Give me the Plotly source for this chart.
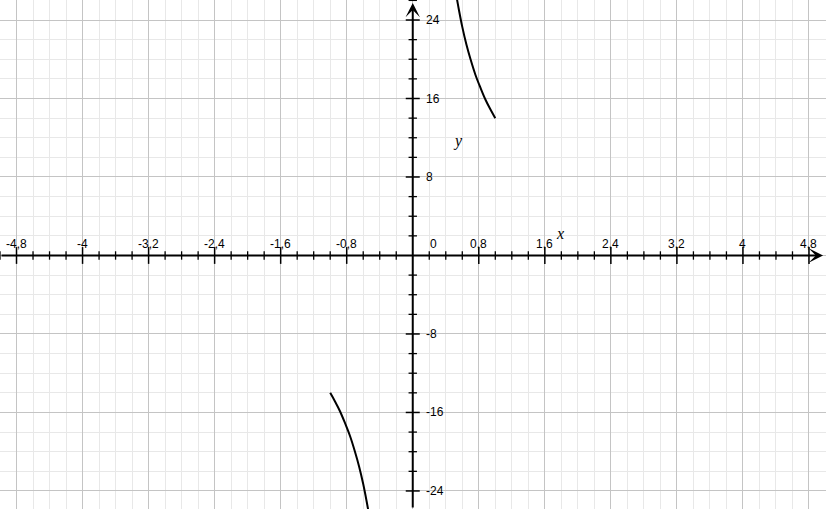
import numpy as np
import plotly.graph_objects as go

# ---- data ----
upper_x = [0.53, 0.56, 0.60, 0.65, 0.70, 0.76, 0.82, 0.88, 0.94, 1.00]
upper_y = [26.4, 25.0, 23.3, 21.5, 20.0, 18.4, 17.1, 15.9, 14.9, 14.0]
lower_x = [-1.00, -0.94, -0.88, -0.82, -0.76, -0.70, -0.65, -0.60, -0.56, -0.53]
lower_y = [-14.0, -14.9, -15.9, -17.1, -18.4, -20.0, -21.5, -23.3, -25.0, -26.4]

x_major = [-4.8, -4, -3.2, -2.4, -1.6, -0.8, 0.8, 1.6, 2.4, 3.2, 4, 4.8]
x_major_labels = ["-4,8", "-4", "-3,2", "-2,4", "-1,6", "-0,8", "0,8", "1,6", "2,4", "3,2", "4", "4,8"]
y_major = [-24, -16, -8, 8, 16, 24]
y_major_labels = ["-24", "-16", "-8", "8", "16", "24"]
x_minor = [round(v, 2) for v in np.arange(-25, 25) * 0.2 if round(v * 5) % 4 != 0]
y_minor = [v for v in range(-26, 27, 2) if v % 8 != 0]

X_RANGE = [-5.0, 5.006]
Y_RANGE = [-25.84, 26.04]

fig = go.Figure()

# curve branches
for xs, ys in [(upper_x, upper_y), (lower_x, lower_y)]:
    fig.add_trace(go.Scatter(x=xs, y=ys, mode="lines",
                             line=dict(color="black", width=2, shape="spline"),
                             hoverinfo="skip", showlegend=False))

# tick marks on the axes
fig.add_trace(go.Scatter(x=x_minor, y=[0] * len(x_minor), mode="markers",
                         marker=dict(symbol="line-ns", size=6, line=dict(color="black", width=1.3)),
                         hoverinfo="skip", showlegend=False))
fig.add_trace(go.Scatter(x=x_major, y=[0] * len(x_major), mode="markers",
                         marker=dict(symbol="line-ns", size=12, line=dict(color="black", width=1.5)),
                         hoverinfo="skip", showlegend=False))
fig.add_trace(go.Scatter(x=[0] * len(y_minor), y=y_minor, mode="markers",
                         marker=dict(symbol="line-ew", size=6, line=dict(color="black", width=1.3)),
                         hoverinfo="skip", showlegend=False))
fig.add_trace(go.Scatter(x=[0] * len(y_major), y=y_major, mode="markers",
                         marker=dict(symbol="line-ew", size=10, line=dict(color="black", width=1.5)),
                         hoverinfo="skip", showlegend=False))

annotations = []
label_font = dict(family="Liberation Sans, Arial, sans-serif", size=12, color="black")
for v, t in zip(x_major, x_major_labels):
    annotations.append(dict(x=v, y=0, text=t, showarrow=False, yshift=11,
                            xanchor="center", yanchor="middle", font=label_font))
for v, t in zip(y_major, y_major_labels):
    annotations.append(dict(x=0, y=v, text=t, showarrow=False, xshift=11,
                            xanchor="left", yanchor="middle", font=label_font))
annotations.append(dict(x=0, y=0, text="0", showarrow=False, xshift=15, yshift=11,
                        xanchor="left", yanchor="middle", font=label_font))

# axis arrows
annotations.append(dict(x=4.97, y=0, ax=X_RANGE[0], ay=0, axref="x", ayref="y",
                        xref="x", yref="y", text="", showarrow=True,
                        arrowhead=3, arrowsize=1.2, arrowwidth=2, arrowcolor="black"))
annotations.append(dict(x=0, y=25.74, ax=0, ay=Y_RANGE[0], axref="x", ayref="y",
                        xref="x", yref="y", text="", showarrow=True,
                        arrowhead=3, arrowsize=1.2, arrowwidth=2, arrowcolor="black"))

# axis names
axis_font = dict(family="Liberation Serif, Times New Roman, serif", size=16, color="black")
annotations.append(dict(x=1.784, y=2.29, text="<i>x</i>", showarrow=False, font=axis_font))
annotations.append(dict(x=0.548, y=11.67, text="<i>y</i>", showarrow=False, font=axis_font))

fig.update_layout(
    width=826, height=509,
    margin=dict(l=0, r=0, t=0, b=0),
    paper_bgcolor="white", plot_bgcolor="white",
    annotations=annotations,
    showlegend=False,
)
fig.update_xaxes(range=X_RANGE, tick0=0, dtick=0.8, showgrid=True, gridcolor="#c4c4c4", gridwidth=1,
                 showticklabels=False, ticks="", zeroline=False, showline=False, fixedrange=True,
                 minor=dict(tick0=0, dtick=0.2, showgrid=True, gridcolor="#e8e8e8", gridwidth=1))
fig.update_yaxes(range=Y_RANGE, tick0=0, dtick=8, showgrid=True, gridcolor="#c4c4c4", gridwidth=1,
                 showticklabels=False, ticks="", zeroline=False, showline=False, fixedrange=True,
                 minor=dict(tick0=0, dtick=2, showgrid=True, gridcolor="#e8e8e8", gridwidth=1))

fig.write_html("out.html", config={"displayModeBar": False},
               post_script="document.body.style.margin='0';document.body.style.overflow='hidden';")
